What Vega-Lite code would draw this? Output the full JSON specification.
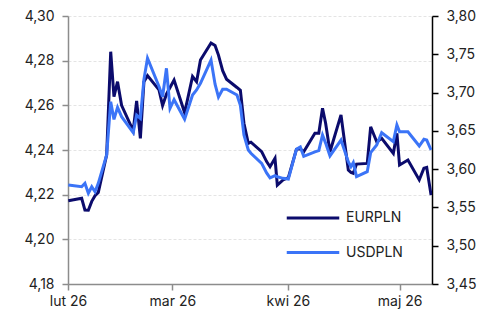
{
  "$schema": "https://vega.github.io/schema/vega-lite/v6.json",
  "width": 364,
  "height": 268,
  "autosize": {"type": "none"},
  "padding": {"left": 68, "top": 16, "right": 65, "bottom": 31},
  "background": "white",
  "config": {
    "locale": {
      "number": {"decimal": ",", "thousands": " ", "grouping": [3], "currency": ["", " zł"]},
      "time": {
        "dateTime": "%A, %e %B %Y, %X",
        "date": "%d.%m.%Y",
        "time": "%H:%M:%S",
        "periods": ["AM", "PM"],
        "days": ["niedziela", "poniedziałek", "wtorek", "środa", "czwartek", "piątek", "sobota"],
        "shortDays": ["niedz.", "pon.", "wt.", "śr.", "czw.", "pt.", "sob."],
        "months": ["styczeń", "luty", "marzec", "kwiecień", "maj", "czerwiec", "lipiec", "sierpień", "wrzesień", "październik", "listopad", "grudzień"],
        "shortMonths": ["sty", "lut", "mar", "kwi", "maj", "cze", "lip", "sie", "wrz", "paź", "lis", "gru"]
      }
    },
    "view": {"stroke": null},
    "axis": {"labelFont": "Inter", "labelFontSize": 14, "labelColor": "#222222", "titleFont": "Inter"},
    "legend": {"labelFont": "Inter"}
  },
  "data": {
    "values": [
      {"date": "2026-02-01T02:00", "EURPLN": 4.2173, "USDPLN": 3.5793},
      {"date": "2026-02-04T16:00", "EURPLN": 4.2184, "USDPLN": 3.5770},
      {"date": "2026-02-05T13:00", "EURPLN": 4.2131, "USDPLN": 3.5815},
      {"date": "2026-02-06T11:00", "EURPLN": 4.2130, "USDPLN": 3.5685},
      {"date": "2026-02-07T09:00", "EURPLN": 4.2170, "USDPLN": 3.5770},
      {"date": "2026-02-08T06:00", "EURPLN": 4.2195, "USDPLN": 3.5705},
      {"date": "2026-02-09T03:00", "EURPLN": 4.2210, "USDPLN": 3.5815},
      {"date": "2026-02-11T09:00", "EURPLN": 4.2378, "USDPLN": 3.6185},
      {"date": "2026-02-12T11:00", "EURPLN": 4.2840, "USDPLN": 3.6881},
      {"date": "2026-02-13T08:00", "EURPLN": 4.2639, "USDPLN": 3.6650},
      {"date": "2026-02-14T07:00", "EURPLN": 4.2706, "USDPLN": 3.6807},
      {"date": "2026-02-15T09:00", "EURPLN": 4.2600, "USDPLN": 3.6685},
      {"date": "2026-02-18T12:00", "EURPLN": 4.2486, "USDPLN": 3.6476},
      {"date": "2026-02-19T10:00", "EURPLN": 4.2620, "USDPLN": 3.6707},
      {"date": "2026-02-20T10:00", "EURPLN": 4.2452, "USDPLN": 3.6664},
      {"date": "2026-02-21T09:00", "EURPLN": 4.2706, "USDPLN": 3.7173},
      {"date": "2026-02-22T08:00", "EURPLN": 4.2733, "USDPLN": 3.7448},
      {"date": "2026-02-25T10:00", "EURPLN": 4.2669, "USDPLN": 3.7080},
      {"date": "2026-02-26T09:00", "EURPLN": 4.2599, "USDPLN": 3.6946},
      {"date": "2026-02-27T10:00", "EURPLN": 4.2650, "USDPLN": 3.7317},
      {"date": "2026-02-28T09:00", "EURPLN": 4.2680, "USDPLN": 3.6794},
      {"date": "2026-03-01T11:00", "EURPLN": 4.2713, "USDPLN": 3.6907},
      {"date": "2026-03-04T07:00", "EURPLN": 4.2567, "USDPLN": 3.6653},
      {"date": "2026-03-06T10:00", "EURPLN": 4.2729, "USDPLN": 3.6968},
      {"date": "2026-03-07T12:00", "EURPLN": 4.2706, "USDPLN": 3.7034},
      {"date": "2026-03-08T13:00", "EURPLN": 4.2803, "USDPLN": 3.7120},
      {"date": "2026-03-11T09:00", "EURPLN": 4.2879, "USDPLN": 3.7425},
      {"date": "2026-03-12T11:00", "EURPLN": 4.2868, "USDPLN": 3.7110},
      {"date": "2026-03-13T09:00", "EURPLN": 4.2825, "USDPLN": 3.6942},
      {"date": "2026-03-14T12:00", "EURPLN": 4.2755, "USDPLN": 3.7043},
      {"date": "2026-03-15T13:00", "EURPLN": 4.2717, "USDPLN": 3.7043},
      {"date": "2026-03-18T08:00", "EURPLN": 4.2680, "USDPLN": 3.6968},
      {"date": "2026-03-19T06:00", "EURPLN": 4.2667, "USDPLN": 3.6835},
      {"date": "2026-03-20T05:00", "EURPLN": 4.2520, "USDPLN": 3.6446},
      {"date": "2026-03-21T09:00", "EURPLN": 4.2430, "USDPLN": 3.6250},
      {"date": "2026-03-22T02:00", "EURPLN": 4.2435, "USDPLN": 3.6207},
      {"date": "2026-03-24T23:00", "EURPLN": 4.2393, "USDPLN": 3.6076},
      {"date": "2026-03-26T07:00", "EURPLN": 4.2348, "USDPLN": 3.5950},
      {"date": "2026-03-27T05:00", "EURPLN": 4.2325, "USDPLN": 3.5885},
      {"date": "2026-03-28T13:00", "EURPLN": 4.2363, "USDPLN": 3.5915},
      {"date": "2026-03-29T04:00", "EURPLN": 4.2243, "USDPLN": 3.5900},
      {"date": "2026-03-30T17:00", "EURPLN": 4.2266, "USDPLN": 3.5880},
      {"date": "2026-04-01T03:00", "EURPLN": 4.2276, "USDPLN": 3.5870},
      {"date": "2026-04-03T07:00", "EURPLN": 4.2403, "USDPLN": 3.6259},
      {"date": "2026-04-04T08:00", "EURPLN": 4.2405, "USDPLN": 3.6290},
      {"date": "2026-04-05T06:00", "EURPLN": 4.2392, "USDPLN": 3.6168},
      {"date": "2026-04-08T06:00", "EURPLN": 4.2475, "USDPLN": 3.6225},
      {"date": "2026-04-09T07:00", "EURPLN": 4.2475, "USDPLN": 3.6241},
      {"date": "2026-04-10T07:00", "EURPLN": 4.2587, "USDPLN": 3.6446},
      {"date": "2026-04-11T03:00", "EURPLN": 4.2520, "USDPLN": 3.6340},
      {"date": "2026-04-12T07:00", "EURPLN": 4.2392, "USDPLN": 3.6172},
      {"date": "2026-04-15T06:00", "EURPLN": 4.2557, "USDPLN": 3.6380},
      {"date": "2026-04-17T05:00", "EURPLN": 4.2310, "USDPLN": 3.6098},
      {"date": "2026-04-17T22:00", "EURPLN": 4.2300, "USDPLN": 3.6032},
      {"date": "2026-04-18T13:00", "EURPLN": 4.2296, "USDPLN": 3.6085},
      {"date": "2026-04-19T10:00", "EURPLN": 4.2337, "USDPLN": 3.5902},
      {"date": "2026-04-22T07:00", "EURPLN": 4.2340, "USDPLN": 3.5967},
      {"date": "2026-04-23T05:00", "EURPLN": 4.2504, "USDPLN": 3.6215},
      {"date": "2026-04-24T20:00", "EURPLN": 4.2437, "USDPLN": 3.6315},
      {"date": "2026-04-26T04:00", "EURPLN": 4.2452, "USDPLN": 3.6476},
      {"date": "2026-04-29T07:00", "EURPLN": 4.2385, "USDPLN": 3.6359},
      {"date": "2026-04-30T06:00", "EURPLN": 4.2475, "USDPLN": 3.6577},
      {"date": "2026-04-30T23:00", "EURPLN": 4.2333, "USDPLN": 3.6489},
      {"date": "2026-05-03T05:00", "EURPLN": 4.2355, "USDPLN": 3.6489},
      {"date": "2026-05-06T06:00", "EURPLN": 4.2266, "USDPLN": 3.6302},
      {"date": "2026-05-07T12:00", "EURPLN": 4.2318, "USDPLN": 3.6390},
      {"date": "2026-05-08T06:00", "EURPLN": 4.2322, "USDPLN": 3.6380},
      {"date": "2026-05-09T10:00", "EURPLN": 4.2198, "USDPLN": 3.6250}
    ]
  },
  "encoding": {
    "x": {
      "field": "date",
      "type": "temporal",
      "scale": {"domain": [{"year": 2026, "month": 2, "date": 1}, {"year": 2026, "month": 5, "date": 9, "hours": 16}]},
      "axis": {
        "title": null,
        "format": "%b %y",
        "tickCount": {"interval": "month", "step": 1},
        "grid": false,
        "domainColor": "#8c8c8c",
        "domainWidth": 1.5,
        "tickColor": "#8c8c8c",
        "tickWidth": 1.5,
        "tickSize": 6,
        "labelPadding": 4,
        "labelFlush": false,
        "labelOverlap": false
      }
    }
  },
  "layer": [
    {
      "mark": {"type": "line", "strokeWidth": 3, "interpolate": "linear", "clip": true},
      "encoding": {
        "y": {
          "field": "EURPLN",
          "type": "quantitative",
          "scale": {"domain": [4.18, 4.30], "zero": false, "nice": false},
          "axis": {
            "title": null,
            "orient": "left",
            "values": [4.18, 4.20, 4.22, 4.24, 4.26, 4.28, 4.30],
            "format": ".2f",
            "grid": true,
            "gridColor": "#e4e4e4",
            "gridDash": [3, 2],
            "gridWidth": 1,
            "domainColor": "#8c8c8c",
            "domainWidth": 1.5,
            "tickColor": "#8c8c8c",
            "tickWidth": 1.5,
            "tickSize": 6,
            "labelPadding": 8
          }
        },
        "color": {
          "datum": "EURPLN",
          "type": "nominal",
          "scale": {"domain": ["EURPLN", "USDPLN"], "range": ["#0b0b6c", "#3b74f7"]},
          "legend": {
            "title": null,
            "orient": "none",
            "legendX": 233,
            "legendY": 190,
            "padding": 0,
            "symbolType": "M-2.5,0H2.5",
            "symbolSize": 441,
            "symbolStrokeWidth": 3,
            "rowPadding": 15.6,
            "labelOffset": 21,
            "labelFontSize": 14,
            "labelColor": "#222222"
          }
        }
      }
    },
    {
      "mark": {"type": "line", "strokeWidth": 3, "interpolate": "linear", "clip": true},
      "encoding": {
        "y": {
          "field": "USDPLN",
          "type": "quantitative",
          "scale": {"domain": [3.45, 3.80], "zero": false, "nice": false},
          "axis": {
            "title": null,
            "orient": "right",
            "values": [3.45, 3.50, 3.55, 3.60, 3.65, 3.70, 3.75, 3.80],
            "format": ".2f",
            "grid": false,
            "domainColor": "#000000",
            "domainWidth": 1.5,
            "tickColor": "#000000",
            "tickWidth": 1.5,
            "tickSize": 6,
            "labelPadding": 8
          }
        },
        "color": {"datum": "USDPLN", "type": "nominal"}
      }
    }
  ],
  "resolve": {"scale": {"y": "independent"}}
}
